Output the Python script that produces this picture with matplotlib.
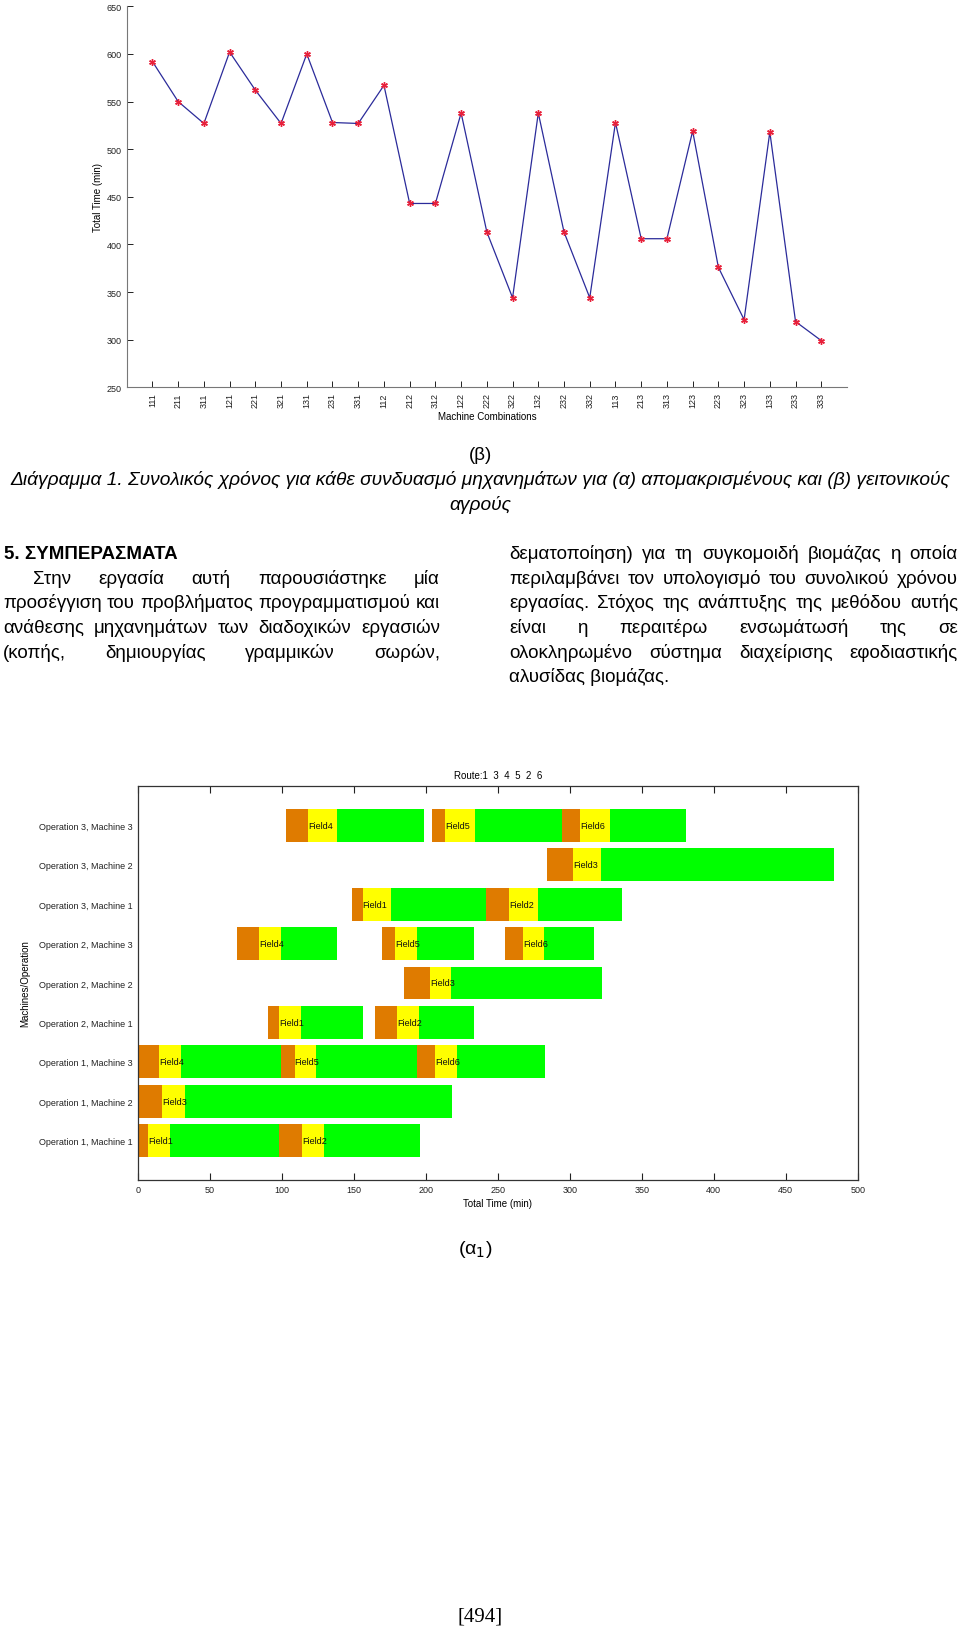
import matplotlib
matplotlib.use('Agg')
import matplotlib.pyplot as plt

W, H = 960, 1631

# Top chart: total time per machine combination
combos = ['111', '211', '311', '121', '221', '321', '131', '231', '331',
          '112', '212', '312', '122', '222', '322', '132', '232', '332',
          '113', '213', '313', '123', '223', '323', '133', '233', '333']
total_time = [592, 550, 527, 602, 562, 527, 600, 528, 527,
              567, 443, 443, 538, 413, 344, 538, 413, 344,
              528, 406, 406, 519, 376, 321, 518, 319, 299]

# Gantt chart: rows bottom to top
rows = ['Operation 1, Machine 1', 'Operation 1, Machine 2', 'Operation 1, Machine 3',
        'Operation 2, Machine 1', 'Operation 2, Machine 2', 'Operation 2, Machine 3',
        'Operation 3, Machine 1', 'Operation 3, Machine 2', 'Operation 3, Machine 3']
# (row index, field, travel start, setup start, work start, end)
tasks = [
    (0, 'Field1', 0, 7.4, 22.2, 97.9), (0, 'Field2', 97.9, 114.1, 129.4, 195.8),
    (1, 'Field3', 0, 17.1, 32.6, 218),
    (2, 'Field4', 0, 15, 30.1, 99.3), (2, 'Field5', 99.3, 109, 123.6, 194.2),
    (2, 'Field6', 194.2, 206.5, 222, 282.6),
    (3, 'Field1', 90.5, 97.9, 113.2, 156.2), (3, 'Field2', 164.8, 180.1, 195.6, 233.3),
    (4, 'Field3', 185.2, 203, 217.8, 322.4),
    (5, 'Field4', 69, 84.5, 99.3, 138.4), (5, 'Field5', 169.9, 178.7, 194, 233.8),
    (5, 'Field6', 255.1, 267.4, 282.2, 317.1),
    (6, 'Field1', 148.8, 156.2, 175.7, 242.1), (6, 'Field2', 242.1, 258.1, 277.8, 336.3),
    (7, 'Field3', 284.2, 302.5, 322, 483.5),
    (8, 'Field4', 103, 118.3, 138.4, 198.6), (8, 'Field5', 204.6, 213.7, 234, 294.9),
    (8, 'Field6', 294.9, 307.4, 327.8, 380.8),
]
route = [1, 3, 4, 5, 2, 6]
seg_colors = ['#DF7B00', '#FFFF00', '#00FF00']

left_lines = [
    'Στην εργασία αυτή παρουσιάστηκε μία',
    'προσέγγιση του προβλήματος προγραμματισμού και',
    'ανάθεσης μηχανημάτων των διαδοχικών εργασιών',
    '(κοπής, δημιουργίας γραμμικών σωρών,',
]
right_lines = [
    'δεματοποίηση) για τη συγκομοιδή βιομάζας η οποία',
    'περιλαμβάνει τον υπολογισμό του συνολικού χρόνου',
    'εργασίας. Στόχος της ανάπτυξης της μεθόδου αυτής',
    'είναι η περαιτέρω ενσωμάτωσή της σε',
    'ολοκληρωμένο σύστημα διαχείρισης εφοδιαστικής',
    'αλυσίδας βιομάζας.',
]
caption1 = ('Διάγραμμα 1. Συνολικός χρόνος για κάθε συνδυασμό μηχανημάτων '
            'για (α) απομακρισμένους και (β) γειτονικούς')
caption2 = 'αγρούς'

plt.rcParams['font.family'] = ['Liberation Sans', 'DejaVu Sans']

fig = plt.figure(figsize=(W / 100, H / 100), dpi=100)


def rect(left, top, right, bottom):
    return [left / W, 1 - bottom / H, (right - left) / W, (bottom - top) / H]


# ---- line chart ----
ax1 = fig.add_axes(rect(126.7, 7.3, 847, 388.3))
xs = list(range(1, len(combos) + 1))
ax1.plot(xs, total_time, color='#2B2B9A', lw=0.9, marker=(6, 2, 0), ms=4.8,
         mew=1.0, mfc='#E8203A', mec='#E8203A')
ax1.set_xlim(0, 28)
ax1.set_ylim(250, 650)
ax1.set_xticks(xs)
ax1.set_xticklabels(combos, rotation=90)
ax1.set_yticks(range(250, 651, 50))
ax1.tick_params(direction='in', labelsize=6.5, length=4, width=0.7, colors='#222222')
for s in ['top', 'right']:
    ax1.spines[s].set_visible(False)
for s in ['left', 'bottom']:
    ax1.spines[s].set_color('#777777')
ax1.set_xlabel('Machine Combinations', fontsize=7, labelpad=3)
ax1.set_ylabel('Total Time (min)', fontsize=7, labelpad=3)

# ---- captions ----
fig.text(480 / W, 1 - 460 / H, '(β)', ha='center', va='baseline', fontsize=13.5)
fig.text(480 / W, 1 - 485 / H, caption1, ha='center', va='baseline', fontsize=13.8,
         style='italic')
fig.text(480 / W, 1 - 510 / H, caption2, ha='center', va='baseline', fontsize=13.8,
         style='italic')

renderer = fig.canvas.get_renderer()


def justify(line, x0, x1, y, size=13.5):
    words = line.split(' ')
    widths = []
    objs = []
    for w in words:
        t = fig.text(0, 0, w, fontsize=size, va='baseline')
        widths.append(t.get_window_extent(renderer).width)
        objs.append(t)
    gap = (x1 - x0 - sum(widths)) / (len(words) - 1)
    x = x0
    for t, w in zip(objs, widths):
        t.set_position((x / W, 1 - y / H))
        x += w + gap


step = 24.7
top_line = 559
fig.text(4 / W, 1 - top_line / H, '5. ΣΥΜΠΕΡΑΣΜΑΤΑ', fontsize=13.5, weight='bold',
         va='baseline')
lx = [33, 3, 3, 3]
for i, line in enumerate(left_lines):
    justify(line, lx[i], 440, top_line + (i + 1) * step)
for i, line in enumerate(right_lines):
    y = top_line + i * step
    if i == len(right_lines) - 1:
        fig.text(509 / W, 1 - y / H, line, fontsize=13.5, va='baseline')
    else:
        justify(line, 509, 958, y)

# ---- gantt chart ----
ax2 = fig.add_axes(rect(137.8, 787, 857.7, 1181))
for r, field, t0, t1, t2, t3 in tasks:
    y = r + 1
    bounds = [t0, t1, t2, t3]
    for k in range(3):
        ax2.barh(y, bounds[k + 1] - bounds[k], left=bounds[k], height=0.83,
                 color=seg_colors[k], lw=0)
    ax2.text(t1, y, field, fontsize=6.5, ha='left', va='center', color='#111111')
ax2.set_xlim(0, 500)
ax2.set_ylim(0, 10)
ax2.set_xticks(range(0, 501, 50))
ax2.set_yticks(range(1, 10))
ax2.set_yticklabels(rows)
ax2.tick_params(direction='in', labelsize=6.5, length=5, width=0.8,
                top=True, colors='#222222')
ax2.tick_params(axis='y', length=0, pad=4)
for s in ax2.spines.values():
    s.set_color('#333333')
    s.set_linewidth(0.9)
ax2.set_xlabel('Total Time (min)', fontsize=7, labelpad=3)
ax2.set_ylabel('Machines/Operation', fontsize=7, labelpad=6)
ax2.set_title('Route:' + '  '.join(str(r) for r in route), fontsize=7, pad=6)

fig.text(475 / W, 1 - 1254 / H, '(α$_1$)', ha='center', va='baseline', fontsize=14)
fig.text(480 / W, 1 - 1622 / H, '[494]', ha='center', va='baseline', fontsize=15,
         family=['Liberation Serif', 'DejaVu Serif'])

fig.savefig('out.png', dpi=100)
